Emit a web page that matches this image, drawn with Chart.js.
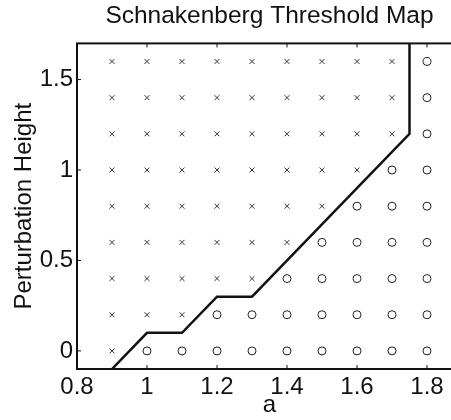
<!DOCTYPE html>
<html>
<head>
<meta charset="utf-8">
<script src="https://cdn.jsdelivr.net/npm/chart.js@4"></script>
<style>
  html, body { margin: 0; padding: 0; background: #fff; overflow: hidden; }
  canvas { display: block; }
</style>
</head>
<body>
<canvas id="mapChart" width="475" height="420"></canvas>
<script>
// grid of a values and perturbation heights that were tested
const aValues = [0.9, 1.0, 1.1, 1.2, 1.3, 1.4, 1.5, 1.6, 1.7, 1.8];
const heights = [0, 0.2, 0.4, 0.6, 0.8, 1.0, 1.2, 1.4, 1.6];
// how many points in each row (from the left) are crosses, the rest are circles
const crossesPerRow = [1, 3, 5, 6, 7, 8, 9, 9, 9];

// threshold curve
const boundaryA = [0.9, 1.0, 1.1, 1.2, 1.3, 1.75, 1.75];
const boundaryH = [-0.1, 0.1, 0.1, 0.3, 0.3, 1.2, 1.7];

const xTicks = [0.8, 1, 1.2, 1.4, 1.6, 1.8];
const yTicks = [0, 0.5, 1, 1.5];

const crossPts = [];
const circlePts = [];
heights.forEach(function(h, row) {
    aValues.forEach(function(a, col) {
        if (col < crossesPerRow[row]) crossPts.push({x: a, y: h});
        else circlePts.push({x: a, y: h});
    });
});
const boundaryPts = boundaryA.map(function(a, i) { return {x: a, y: boundaryH[i]}; });

// box around the axes with inward tick marks
const frameTicks = {
    id: 'frameTicks',
    afterDatasetsDraw(chart) {
        const ctx = chart.ctx;
        const area = chart.chartArea;
        const xs = chart.scales.x, ys = chart.scales.y;
        const len = 4;
        ctx.save();
        ctx.strokeStyle = '#111';
        ctx.lineWidth = 1;
        ctx.beginPath();
        xTicks.forEach(function(v) {
            const px = xs.getPixelForValue(v);
            ctx.moveTo(px, area.bottom); ctx.lineTo(px, area.bottom - len);
            ctx.moveTo(px, area.top); ctx.lineTo(px, area.top + len);
        });
        yTicks.forEach(function(v) {
            const py = ys.getPixelForValue(v);
            ctx.moveTo(area.left, py); ctx.lineTo(area.left + len, py);
            ctx.moveTo(area.right, py); ctx.lineTo(area.right - len, py);
        });
        ctx.stroke();
        ctx.lineWidth = 2;
        ctx.strokeRect(area.left, area.top, area.right - area.left, area.bottom - area.top);
        ctx.restore();
    }
};

const font = {family: 'Liberation Sans, Arial, sans-serif', size: 24};

new Chart(document.getElementById('mapChart').getContext('2d'), {
    type: 'scatter',
    data: {
        datasets: [{
            label: 'threshold',
            type: 'line',
            data: boundaryPts,
            borderColor: '#111',
            borderWidth: 2.5,
            pointRadius: 0,
            fill: false,
            tension: 0
        }, {
            label: 'pattern',
            data: crossPts,
            pointStyle: 'crossRot',
            pointRadius: 3.5,
            borderColor: '#333',
            borderWidth: 1
        }, {
            label: 'no pattern',
            data: circlePts,
            pointStyle: 'circle',
            pointRadius: 4,
            backgroundColor: 'rgba(0,0,0,0)',
            borderColor: '#222',
            borderWidth: 1
        }]
    },
    options: {
        responsive: false,
        animation: false,
        layout: { padding: { left: 0, right: 13, top: 0, bottom: 0 } },
        plugins: {
            legend: { display: false },
            tooltip: { enabled: false },
            title: {
                display: true,
                fullSize: false,
                text: 'Schnakenberg Threshold Map',
                color: '#111',
                font: { family: font.family, size: 24.5, weight: 'normal' },
                padding: { top: 2, bottom: 12 }
            }
        },
        scales: {
            x: {
                type: 'linear',
                min: 0.8,
                max: 1.9,
                afterBuildTicks: function(s) { s.ticks = xTicks.map(function(v) { return {value: v}; }); },
                afterFit: function(s) { s.height = 51; },
                grid: { display: false, drawTicks: false },
                border: { display: false },
                ticks: {
                    color: '#111',
                    font: font,
                    padding: 4,
                    maxRotation: 0,
                    callback: function(v) { return String(v); }
                },
                title: { display: true, text: 'a', color: '#111', font: font, padding: { top: 0, bottom: 0 } }
            },
            y: {
                type: 'linear',
                min: -0.1,
                max: 1.7,
                afterBuildTicks: function(s) { s.ticks = yTicks.map(function(v) { return {value: v}; }); },
                afterFit: function(s) { s.width = 77; },
                grid: { display: false, drawTicks: false },
                border: { display: false },
                ticks: {
                    color: '#111',
                    font: font,
                    padding: 4,
                    callback: function(v) { return String(v); }
                },
                title: { display: true, text: 'Perturbation Height', color: '#111', font: font, padding: { top: 10, bottom: 0 } }
            }
        }
    },
    plugins: [frameTicks]
});
</script>
</body>
</html>
